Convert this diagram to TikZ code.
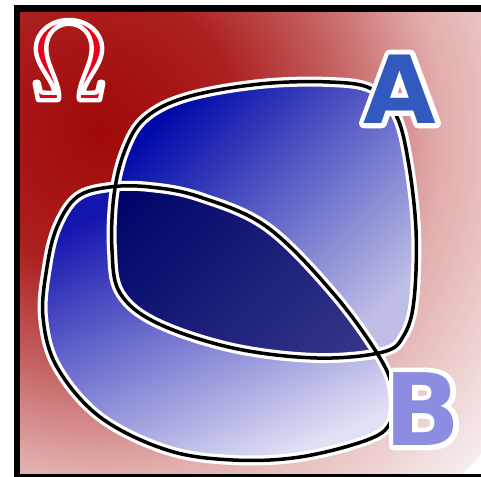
\documentclass[tikz,border=0pt]{standalone}
\usepackage{fix-cm}
\usepackage{fontspec}
\usepackage{tikz}
\usetikzlibrary{calc}

\newfontfamily\letterfont{DejaVu Sans}

\definecolor{bgDark}{RGB}{160,8,8}
\definecolor{bgMid}{RGB}{172,32,32}
\definecolor{bgRose}{RGB}{196,96,96}
\definecolor{bgPink}{RGB}{226,172,172}
\definecolor{bgPale}{RGB}{247,238,238}
\definecolor{setATop}{RGB}{0,8,168}
\definecolor{setABot}{RGB}{190,190,230}
\definecolor{setBTop}{RGB}{20,20,175}
\definecolor{setBBot}{RGB}{225,225,245}
\definecolor{capTop}{RGB}{0,4,105}
\definecolor{capBot}{RGB}{60,60,140}
\definecolor{omegaRed}{RGB}{235,0,25}
\definecolor{labABlue}{RGB}{50,90,190}
\definecolor{labBBlue}{RGB}{140,140,225}

\pgfdeclareradialshading{omegabg}{\pgfpoint{0bp}{0bp}}{%
  color(0bp)=(bgDark); color(7bp)=(bgMid); color(12bp)=(bgRose);
  color(17bp)=(bgPink); color(25bp)=(bgPale); color(50bp)=(white)}

% outlines of the two sets
\newcommand\setA{plot[smooth cycle, tension=0.6] coordinates {
  (187,97) (260,84) (330,82) (372,89) (396,115) (408,160) (416,230)
  (414,300) (404,335) (383,352) (317,358) (233,348) (157,323)
  (120,293) (112,250) (114,195) (125,150) (145,118)}}
\newcommand\setB{plot[smooth cycle, tension=0.6] coordinates {
  (110,187) (150,187) (200,197) (267,227) (333,293) (380,358)
  (393,393) (390,423) (367,440) (300,457) (233,460) (167,450)
  (100,417) (57,367) (43,317) (47,267) (57,227) (77,197)}}

% white stroke drawn over the glyph fill
\newcommand\strokedglyph[2]{\special{pdf:literal direct 2 Tr #1 w 1 J 1 j 1 1 1 RG}#2\special{pdf:literal direct 0 Tr}}
% white halo behind the glyph
\newcommand\haloglyph[2]{\rlap{\special{pdf:literal direct 1 Tr #1 w 1 J 1 j 1 1 1 RG}#2\special{pdf:literal direct 0 Tr}}#2}

\begin{document}
\begin{tikzpicture}[
    x=0.5pt, y=-0.5pt,
    halo/.style={draw=white, line width=5pt, line join=round},
    rim/.style={draw=black, line width=1.75pt, line join=round},
    omegalbl/.style={inner sep=0pt, text=omegaRed, font=\fontsize{56}{56}\selectfont},
    setlbl/.style={inner sep=0pt, font=\letterfont\bfseries\fontsize{#1}{#1}\selectfont}
  ]
    \useasboundingbox (0,0) rectangle (481,476);

    %% ── universe ──
    \begin{scope}
      \clip (17,9) rectangle (500,480);
      \shade[shading=omegabg] (100,130) circle (500);
    \end{scope}
    \draw[line width=3.25pt] (16.75,8.65) rectangle (500,476.75);

    %% ── sets ──
    \shade[top color=setATop, bottom color=setABot, shading angle=45] \setA;
    \shade[top color=setBTop, bottom color=setBBot, shading angle=25] \setB;
    \begin{scope}
      \clip \setA;
      \shade[top color=capTop, bottom color=capBot, shading angle=45] \setB;
    \end{scope}
    \draw[halo] \setA;
    \draw[halo] \setB;
    \draw[rim] \setA;
    \draw[rim] \setB;

    %% ── labels ──
    \node[omegalbl] (omega) at (69,61) {\rlap{\haloglyph{3.2}{$\Omega$}}\strokedglyph{1.2}{$\Omega$}};
    \node[setlbl=47, text=labABlue] (labA) at (400,89) {\haloglyph{5}{A}};
    \node[setlbl=50, text=labBBlue] (labB) at (423,409) {\haloglyph{5}{B}};
  \end{tikzpicture}
\end{document}
